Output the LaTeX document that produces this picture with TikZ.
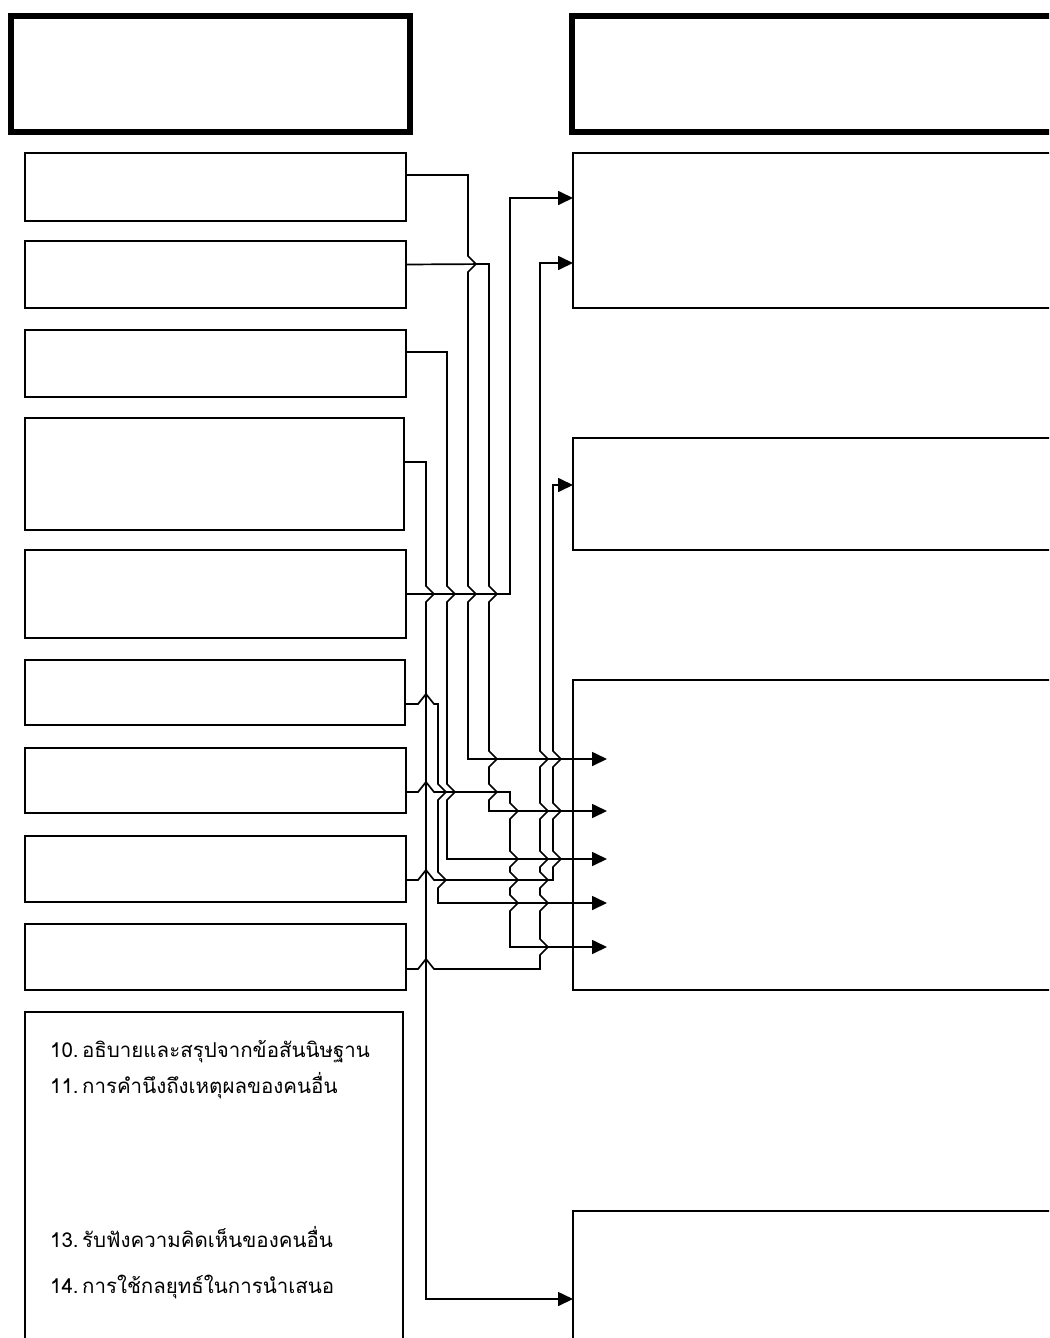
\documentclass[tikz,border=0pt]{standalone}
\usepackage{fontspec}
\newfontfamily\thaifont[Script=Thai]{Loma}
\usetikzlibrary{arrows.meta}
% kink of a vertical line over a horizontal one (going down / going up)
\newcommand{\vkdown}[2]{-- (#1,#2-8) -- (#1+8,#2) -- (#1,#2+8)}
\newcommand{\vkup}[2]{-- (#1,#2+8) -- (#1+8,#2) -- (#1,#2-8)}
% hop of a horizontal line over a vertical one
\newcommand{\hhop}[2]{-- (#1-8,#2) -- (#1,#2-10) -- (#1+8,#2)}
\begin{document}
\begin{tikzpicture}[x=1pt,y=-1pt,
  box/.style={draw,line width=1.8pt,inner sep=0pt,outer sep=0pt,anchor=north west},
  headbox/.style={draw,line width=6pt,inner sep=0pt,outer sep=0pt,anchor=north west},
  conn/.style={line width=1.7pt,line join=miter},
  arr/.style={conn,-{Triangle[length=15pt,width=14pt]}},
  lbl/.style={anchor=base west,inner sep=0pt,font=\thaifont\fontsize{20.5}{24}\selectfont}]
\useasboundingbox (0,0) rectangle (1049,1338);
\clip (0,0) rectangle (1049,1338);

% header boxes
\node[headbox,minimum width=399pt,minimum height=116pt] (h1) at (11,16) {};
\node[headbox,minimum width=500pt,minimum height=116pt] (h2) at (572,16) {};

% left boxes
\node[box,minimum width=381pt,minimum height=68pt]  (b1) at (25,153) {};
\node[box,minimum width=381pt,minimum height=67pt]  (b2) at (25,241) {};
\node[box,minimum width=381pt,minimum height=67pt]  (b3) at (25,330) {};
\node[box,minimum width=379pt,minimum height=112pt] (b4) at (25,418) {};
\node[box,minimum width=381pt,minimum height=88pt]  (b5) at (25,550) {};
\node[box,minimum width=380pt,minimum height=65pt]  (b6) at (25,660) {};
\node[box,minimum width=381pt,minimum height=65pt]  (b7) at (25,748) {};
\node[box,minimum width=381pt,minimum height=66pt]  (b8) at (25,836) {};
\node[box,minimum width=381pt,minimum height=66pt]  (b9) at (25,924) {};
\node[box,minimum width=378pt,minimum height=360pt] (b10) at (25,1012) {};

% right boxes
\node[box,minimum width=500pt,minimum height=155pt] (r1) at (573,153) {};
\node[box,minimum width=500pt,minimum height=112pt] (r2) at (573,438) {};
\node[box,minimum width=500pt,minimum height=310pt] (r3) at (573,680) {};
\node[box,minimum width=500pt,minimum height=160pt] (r4) at (573,1211) {};

% texts in box 10
\node[lbl] (t10) at (50,1057) {10.\,อธิบายและสรุปจากข้อสันนิษฐาน};
\node[lbl] (t11) at (50,1093) {11.\,การคำนึงถึงเหตุผลของคนอื่น};
\node[lbl] (t13) at (50,1247) {13.\,รับฟังความคิดเห็นของคนอื่น};
\node[lbl] (t14) at (50,1293) {14.\,การใช้กลยุทธ์ในการนำเสนอ};

% arrow end points inside r3
\coordinate (a1) at (607,759);
\coordinate (a2) at (607,811);
\coordinate (a3) at (607,859);
\coordinate (a4) at (607,903);
\coordinate (a5) at (607,947);

% connectors
\draw[arr] ([yshift=12pt]b1.east) -- (468,175) \vkdown{468}{264} \vkdown{468}{594} -- (468,759) -- (a1);
\draw[arr] ([yshift=10pt]b2.east) -- (489,264) \vkdown{489}{594} \vkdown{489}{759} \vkdown{489}{792} -- (489,811) -- (a2);
\draw[arr] ([yshift=11.5pt]b3.east) -- (447,352) \vkdown{447}{594} \vkdown{447}{792} -- (447,859) -- (a3);
\draw[arr] ([yshift=12pt]b4.east) -- (426,462) \vkdown{426}{594} -- (426,1299) -- (r4.west |- 0,1299);
\draw[arr] (b5.east) -- (510,594) -- (510,198) -- (r1.west |- 0,198);
\draw[arr] ([yshift=-11.5pt]b6.east) \hhop{426}{704} -- (438,704) \vkdown{438}{792} \vkdown{438}{880} -- (438,903) -- (a4);
\draw[arr] ([yshift=-11.5pt]b7.east) \hhop{426}{792} -- (510,792) \vkdown{510}{811} \vkdown{510}{859} \vkdown{510}{880} \vkdown{510}{903} -- (510,947) -- (a5);
\draw[arr] ([yshift=-11pt]b8.east) \hhop{426}{880} -- (553,880) \vkup{553}{859} \vkup{553}{811} \vkup{553}{759} -- (553,485) -- (r2.west |- 0,485);
\draw[arr] ([yshift=-12pt]b9.east) \hhop{426}{969} -- (540,969) \vkup{540}{947} \vkup{540}{903} \vkup{540}{880} \vkup{540}{859} \vkup{540}{811} \vkup{540}{759} -- (540,263) -- (r1.west |- 0,263);
\end{tikzpicture}
\end{document}
